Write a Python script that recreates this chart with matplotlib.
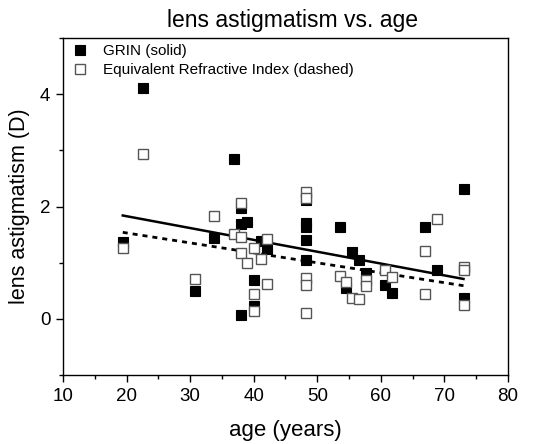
import matplotlib
matplotlib.use("Agg")
import matplotlib.pyplot as plt
from matplotlib.ticker import MultipleLocator

plt.rcParams['font.family'] = ['Liberation Sans', 'DejaVu Sans']

# GRIN (solid) data
grin_age = [19.4, 22.6, 30.8, 33.8, 36.9, 38.0, 38.0, 39.0, 38.0, 40.0, 40.0, 41.1, 42.1,
            48.2, 48.2, 48.2, 48.2, 48.2, 53.5, 54.5, 55.5, 56.5, 57.6, 60.7, 61.7,
            66.9, 68.8, 73.0, 73.0]
grin_val = [1.37, 4.11, 0.50, 1.44, 2.84, 1.97, 1.68, 1.72, 0.06, 0.69, 0.22, 1.39, 1.24,
            2.12, 1.71, 1.63, 1.40, 1.04, 1.64, 0.55, 1.19, 1.04, 0.82, 0.60, 0.46,
            1.63, 0.87, 2.31, 0.37]

# Equivalent refractive index (dashed) data
eri_age = [19.4, 22.6, 30.8, 33.8, 36.9, 38.0, 38.0, 38.0, 39.0, 40.0, 40.0, 40.0, 41.1,
           42.1, 42.1, 48.2, 48.2, 48.2, 48.2, 48.2, 53.5, 54.5, 55.5, 56.5, 57.6,
           57.6, 60.7, 61.7, 66.9, 66.9, 68.9, 73.0, 73.0, 73.0]
eri_val = [1.26, 2.93, 0.71, 1.83, 1.51, 2.06, 1.46, 1.17, 0.99, 1.27, 0.44, 0.14, 1.07,
           1.43, 0.62, 2.25, 2.16, 0.72, 0.60, 0.11, 0.77, 0.66, 0.37, 0.35, 0.69,
           0.59, 0.87, 0.75, 1.21, 0.44, 1.77, 0.93, 0.87, 0.25]

# Regression lines (endpoints)
fit_age = [19.4, 73.0]
grin_fit = [1.84, 0.71]
eri_fit = [1.54, 0.59]

fig = plt.figure(figsize=(5.37, 4.44), dpi=100)
ax = fig.add_axes([0.1173, 0.1554, 0.8287, 0.759])

ax.plot(grin_age, grin_val, 's', color='black', markersize=6.5, markeredgewidth=0.8,
        label='GRIN (solid)', linestyle='none', zorder=3)
ax.plot(eri_age, eri_val, 's', markerfacecolor='white', markeredgecolor='#555555',
        markersize=6.5, markeredgewidth=1.0,
        label='Equivalent Refractive Index (dashed)', linestyle='none', zorder=4)
ax.plot(fit_age, grin_fit, '-', color='black', linewidth=1.8, zorder=2)
ax.plot(fit_age, eri_fit, color='black', linewidth=2.0, linestyle=(0, (1.8, 1.8)), zorder=2)

ax.set_xlim(10, 80)
ax.set_ylim(-1, 5)
ax.xaxis.set_major_locator(MultipleLocator(10))
ax.xaxis.set_minor_locator(MultipleLocator(5))
ax.yaxis.set_major_locator(MultipleLocator(2))
ax.yaxis.set_minor_locator(MultipleLocator(1))
ax.tick_params(which='major', direction='out', length=5, width=1, labelsize=13.5, pad=4)
ax.tick_params(which='minor', direction='out', length=3, width=1)
for s in ax.spines.values():
    s.set_linewidth(1.0)

ax.set_xlabel('age (years)', fontsize=16, labelpad=11)
ax.set_ylabel('lens astigmatism (D)', fontsize=15.5, labelpad=7)
ax.set_title('lens astigmatism vs. age', fontsize=16.5, pad=8, x=0.515)

leg = ax.legend(loc='upper left', frameon=False, fontsize=11, handletextpad=0.9,
                borderaxespad=0.0, labelspacing=0.35, handlelength=1.2,
                bbox_to_anchor=(0.005, 1.0))

fig.savefig('out.png', dpi=100)
